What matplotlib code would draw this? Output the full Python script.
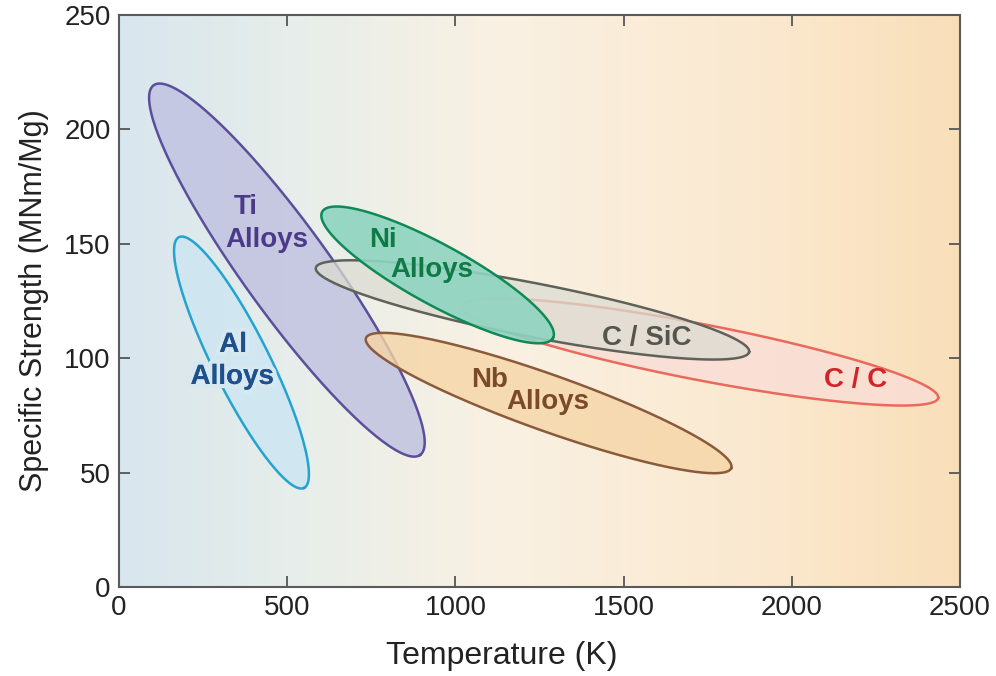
import numpy as np
import matplotlib.pyplot as plt
import matplotlib.patheffects as pe
from matplotlib.colors import LinearSegmentedColormap

# ellipse regions: centre, end of major axis, end of minor axis (K, MNm/Mg)
names = ["Ti", "Al", "Nb", "C/C", "C/SiC", "Ni"]
centres = [(499, 138.5), (364, 98.1), (1277, 80.4), (1727, 102.7), (1229, 121.1), (947, 136.4)]
major_ends = [(895, 57.7), (550, 43.3), (1820, 52.0), (2435, 82.6), (1873, 102.7), (1290, 108.8)]
minor_ends = [(604, 149.5), (439, 103.6), (1305, 92.0), (1743, 114.7), (1245, 132.6), (990, 147.9)]

edge_colors = ["#5b4f9b", "#22a3d0", "#8b5a3b", "#e96a5c", "#60625a", "#0f8a56"]
fill_colors = ["#c3c5e1", "#cde6f3", "#f6d5a6", "#f9ddd6", "#dcdcd2", "#8fd4c1"]
fill_alpha = [0.9, 0.85, 0.8, 0.8, 0.75, 0.9]

# labels: text lines with their positions
label_texts = ["Ti", "Alloys", "Al", "Alloys", "Ni", "Alloys", "C / SiC", "C / C", "Nb", "Alloys"]
label_x = [378, 440, 339, 336, 785, 931, 1570, 2190, 1100, 1275]
label_y = [166, 151.7, 105.8, 91.8, 151.7, 138.5, 108.8, 90.5, 90.5, 80.9]
label_colors = ["#4b3a8a", "#4b3a8a", "#1f4f8c", "#1f4f8c", "#0e7a45", "#0e7a45",
                "#555550", "#d2232a", "#7a4a2a", "#7a4a2a"]

x_ticks = [0, 500, 1000, 1500, 2000, 2500]
y_ticks = [0, 50, 100, 150, 200, 250]

fig = plt.figure(figsize=(9.96, 6.76), dpi=100)
ax = fig.add_axes([0.1195, 0.1317, 0.8444, 0.8461])

# background gradient, blue on the cold side to orange on the hot side
bg = LinearSegmentedColormap.from_list("bg", [(0, "#d8e6ee"), (0.22, "#e8eeea"),
                                              (0.45, "#f9f1e3"), (0.75, "#fbe9d0"),
                                              (1, "#f9dfb9")])
ax.imshow(np.linspace(0, 1, 256)[None, :], cmap=bg, aspect="auto",
          extent=[0, 2500, 0, 250], zorder=0)

t = np.linspace(0, 2 * np.pi, 300)
for i in range(len(names)):
    cx, cy = centres[i]
    ux, uy = major_ends[i][0] - cx, major_ends[i][1] - cy
    vx, vy = minor_ends[i][0] - cx, minor_ends[i][1] - cy
    ex = cx + ux * np.cos(t) + vx * np.sin(t)
    ey = cy + uy * np.cos(t) + vy * np.sin(t)
    ax.fill(ex, ey, color=fill_colors[i], alpha=fill_alpha[i], zorder=2 + i, lw=0)
    ax.plot(ex, ey, color=edge_colors[i], lw=1.8, zorder=2.5 + i)

for i in range(len(label_texts)):
    txt = ax.text(label_x[i], label_y[i], label_texts[i], color=label_colors[i],
                  fontsize=20, fontweight="bold", family="Liberation Sans",
                  ha="center", va="center", zorder=20)
    if label_colors[i] == "#1f4f8c":
        # the Al label cuts through the outline in the original
        txt.set_path_effects([pe.withStroke(linewidth=6, foreground="#d6e9f1"), pe.Normal()])

ax.set_xlim(0, 2500)
ax.set_ylim(0, 250)
ax.set_xticks(x_ticks)
ax.set_yticks(y_ticks)
ax.tick_params(direction="in", length=8, width=1.3, color="#555555",
               top=True, right=True, labelsize=20, labelcolor="#222222", pad=6)
for lab in ax.get_xticklabels() + ax.get_yticklabels():
    lab.set_family("Liberation Sans")
for s in ax.spines.values():
    s.set_color("#5a5a5a")
    s.set_linewidth(1.5)

ax.set_xlabel("Temperature (K)", fontsize=23, family="Liberation Sans", color="#222222")
ax.xaxis.set_label_coords(0.455, -0.095)
ax.set_ylabel("Specific Strength (MNm/Mg)", fontsize=22, family="Liberation Sans",
              color="#222222")
ax.yaxis.set_label_coords(-0.083, 0.5)

fig.savefig("out.png", dpi=100)
